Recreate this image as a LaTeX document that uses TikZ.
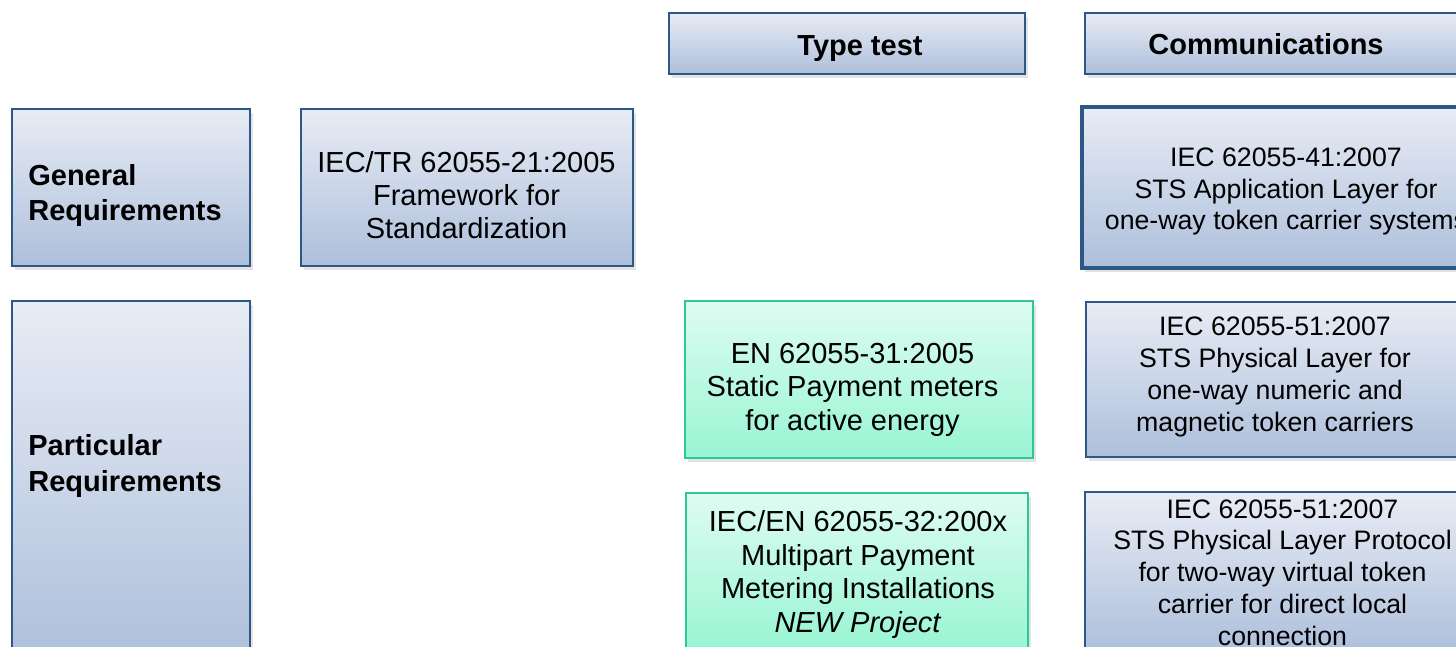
\documentclass[tikz,border=0pt]{standalone}
\usepackage{fontspec}
\setmainfont{Liberation Sans}
\usetikzlibrary{positioning,shadows}

\definecolor{stdtop}{HTML}{E8ECF5}
\definecolor{stdbot}{HTML}{ADBFDB}
\definecolor{stdedge}{HTML}{2C5887}
\definecolor{newtop}{HTML}{DEFCF2}
\definecolor{newbot}{HTML}{98F5D3}
\definecolor{newedge}{HTML}{2DC79B}

\tikzset{
  stdbox/.style={draw=stdedge, line width=1.1pt, top color=stdtop, bottom color=stdbot,
    inner sep=0pt, drop shadow={opacity=0.22, shadow xshift=1.5pt, shadow yshift=-2pt}},
  newbox/.style={stdbox, draw=newedge, top color=newtop, bottom color=newbot},
  stdtext/.style={align=center, inner sep=0pt, font=\fontsize{16.5}{18.7}\selectfont},
  newtext/.style={stdtext, font=\fontsize{16.5}{19.1}\selectfont},
  commtext/.style={stdtext, font=\fontsize{15.2}{18.1}\selectfont},
  headtext/.style={align=left, inner sep=0pt, font=\fontsize{16.5}{20.4}\selectfont\bfseries},
}

\begin{document}
\begin{tikzpicture}
    \useasboundingbox (0,0) rectangle (29.12,12.94);
    \clip (0,0) rectangle (29.12,12.94);

    % Boxes
    \node [stdbox, minimum width=7.12cm, minimum height=1.22cm] (typebox)  at (16.94,12.07) {};
    \node [stdbox, minimum width=7.66cm, minimum height=1.22cm] (commbox)  at (25.53,12.07) {};
    \node [stdbox, minimum width=4.76cm, minimum height=3.14cm] (genbox)   at (2.62,9.19)   {};
    \node [stdbox, minimum width=4.76cm, minimum height=7.28cm] (partbox)  at (2.62,3.28)   {};
    \node [stdbox, minimum width=6.64cm, minimum height=3.14cm] (framebox) at (9.34,9.19)   {};
    \node [stdbox, line width=2pt, minimum width=8.12cm, minimum height=3.22cm] (applbox) at (25.70,9.19) {};
    \node [newbox, minimum width=6.96cm, minimum height=3.14cm] (meterbox) at (17.18,5.35)  {};
    \node [stdbox, minimum width=7.54cm, minimum height=3.10cm] (physbox)  at (25.49,5.35)  {};
    \node [newbox, minimum width=6.84cm, minimum height=3.14cm] (multibox) at (17.14,1.51)  {};
    \node [stdbox, minimum width=7.90cm, minimum height=3.24cm] (virtbox)  at (25.65,1.48)  {};

    % Column heads
    \node [headtext] (typetest) at (17.20,11.97) {Type test};
    \node [headtext] (commhead) at (25.32,12.05) {Communications};

    % Row heads
    \node [headtext, anchor=west] (genreq)  at (0.56,9.03) {General\\Requirements};
    \node [headtext, anchor=west] (partreq) at (0.56,3.62) {Particular\\Requirements};

    % Standards
    \node [stdtext]  (framework) at (9.33,9.03)
          {IEC/TR 62055-21:2005\\Framework for\\Standardization};
    \node [commtext] (appl)      at (25.72,9.11)
          {IEC 62055-41:2007\\STS Application Layer for\\one-way token carrier systems};
    \node [newtext]  (meters)    at (17.05,5.15)
          {EN 62055-31:2005\\Static Payment meters\\for active energy};
    \node [commtext] (physical)  at (25.50,5.40)
          {IEC 62055-51:2007\\STS Physical Layer for\\one-way numeric and\\magnetic token carriers};
    \node [newtext]  (multipart) at (17.16,1.45)
          {IEC/EN 62055-32:200x\\Multipart Payment\\Metering Installations\\\textit{NEW Project}};
    \node [commtext] (virtual)   at (25.65,1.49)
          {IEC 62055-51:2007\\STS Physical Layer Protocol\\for two-way virtual token\\carrier for direct local\\connection};
\end{tikzpicture}
\end{document}
